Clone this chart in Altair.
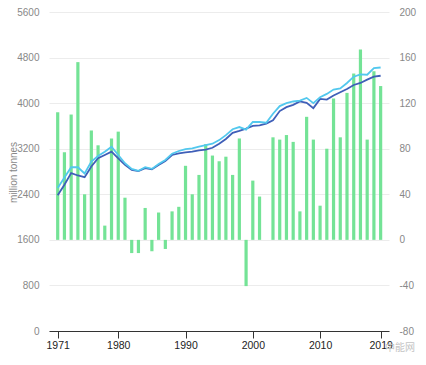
import altair as alt
import pandas as pd

years = list(range(1971, 2020))
growth = [112, 77, 110, 156, 40, 96, 83, 12.5, 89, 95,
          37, -11.6, -11.6, 28, -10, 24, -8, 25, 29, 65,
          40, 57, 84, 74, 69, 73, 57, 89, -40.6, 52,
          38, 0, 90, 88, 92, 86, 25, 108, 88, 30,
          80, 124, 90, 129, 146, 167, 88, 148, 135]
dark = [2382, 2568, 2771, 2730, 2701, 2887, 3032, 3090, 3148, 3032,
        2916, 2829, 2806, 2858, 2840, 2916, 2986, 3090, 3119, 3136,
        3148, 3171, 3183, 3217, 3287, 3370, 3480, 3513, 3553, 3600,
        3611, 3640, 3699, 3861, 3930, 3970, 4029, 4005, 3913, 4075,
        4063, 4133, 4191, 4249, 4319, 4354, 4412, 4464, 4481]
light = [2510, 2695, 2875, 2875, 2765, 2974, 3072, 3148, 3235, 3090,
         2945, 2846, 2812, 2875, 2846, 2933, 3003, 3113, 3160, 3194,
         3206, 3235, 3264, 3287, 3351, 3438, 3542, 3580, 3536, 3669,
         3669, 3657, 3814, 3948, 4000, 4029, 4046, 4092, 4000, 4104,
         4162, 4238, 4260, 4354, 4464, 4505, 4499, 4614, 4626]
x_ticks = [1971, 1980, 1990, 2000, 2010, 2019]
left_ticks = [0, 800, 1600, 2400, 3200, 4000, 4800, 5600]
right_ticks = [-80, -40, 0, 40, 80, 120, 160, 200]

bars_df = pd.DataFrame({"year": years, "growth": growth})
lines_df = pd.DataFrame({
    "year": years * 2,
    "value": dark + light,
    "series": ["dark"] * len(years) + ["light"] * len(years),
})

font = "Liberation Sans"
xscale = alt.Scale(domain=[1970.45, 2019.5], nice=False, zero=False)
xaxis = alt.Axis(values=x_ticks, format="d", title=None, grid=False,
                 domainColor="#333", tickColor="#333", tickSize=7,
                 labelColor="#222", labelFontSize=10.5, labelFont=font,
                 labelPadding=2, labelFlush=False)

bars = alt.Chart(bars_df).mark_bar(color="#74e396", size=3.2).encode(
    x=alt.X("year:Q", scale=xscale, axis=xaxis),
    y=alt.Y("growth:Q", scale=alt.Scale(domain=[-80, 200], nice=False),
            axis=alt.Axis(orient="right", values=right_ticks, grid=False,
                          domain=False, ticks=False, title=None,
                          labelExpr="datum.value + ''",
                          labelColor="#888", labelFontSize=10, labelFont=font,
                          labelPadding=10)),
)

lines = alt.Chart(lines_df).mark_line(strokeWidth=1.8).encode(
    x=alt.X("year:Q", scale=xscale),
    y=alt.Y("value:Q", scale=alt.Scale(domain=[0, 5600], nice=False),
            axis=alt.Axis(orient="left", values=left_ticks, grid=True,
                          gridColor="#ececec", domain=False, ticks=False,
                          labelExpr="datum.value + ''",
                          title="million tonnes", titleColor="#888",
                          titleFontWeight="normal", titleFontSize=10,
                          titleFont=font, titleX=-36, titleY=160,
                          titleAngle=270, titleAlign="center",
                          titleBaseline="middle",
                          labelColor="#888", labelFontSize=10, labelFont=font,
                          labelPadding=10)),
    color=alt.Color("series:N", legend=None,
                    scale=alt.Scale(domain=["dark", "light"],
                                    range=["#3f5fb8", "#52c8ee"])),
    order=alt.Order("series:N"),
)

wm = alt.Chart(pd.DataFrame({"t": ["中能网"]})).mark_text(
    font="Noto Sans CJK SC", fontSize=10, color="#c4c4c4", align="left",
    baseline="middle"
).encode(text="t:N", x=alt.value(336), y=alt.value(336))

chart = alt.layer(bars, lines, wm).resolve_scale(y="independent").properties(
    width=340, height=319,
    padding={"left": 41, "top": 4, "right": 29, "bottom": 24},
    autosize=alt.AutoSizeParams(type="none"),
).configure_view(stroke=None)

chart.save("out.html", embed_options={"renderer": "svg", "actions": False})
